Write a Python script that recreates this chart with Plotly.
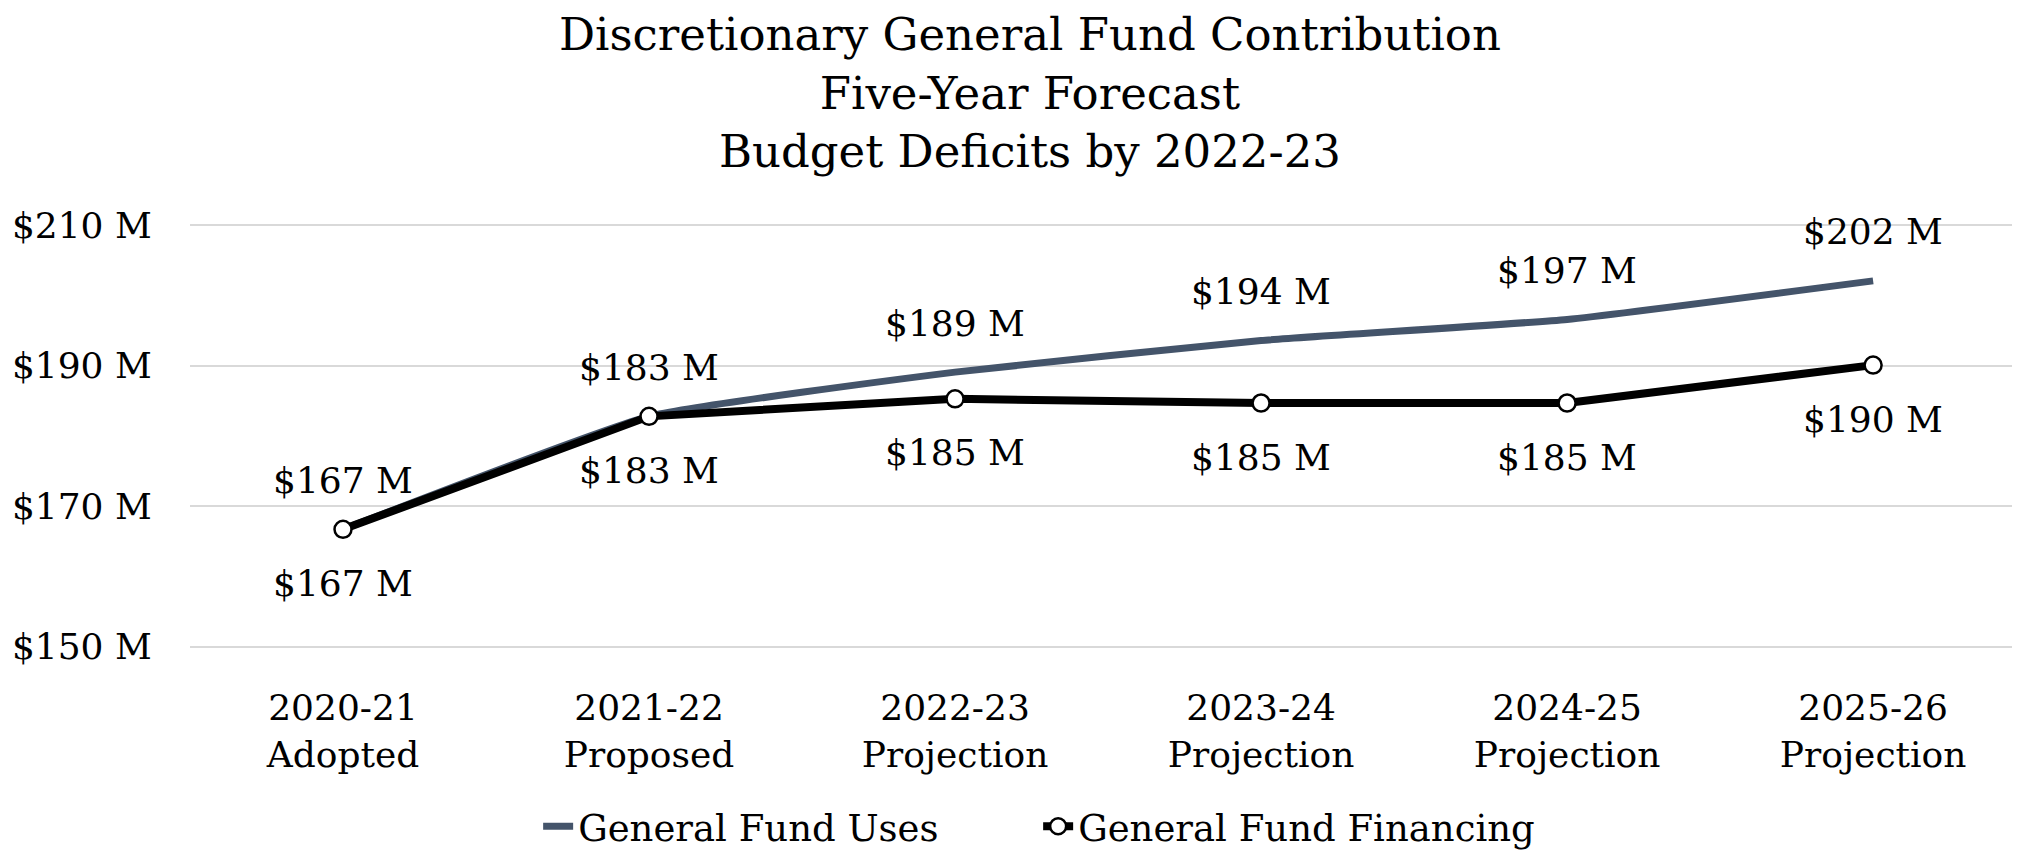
import plotly.graph_objs as go

# chart data
categories = ["2020-21<br>Adopted", "2021-22<br>Proposed", "2022-23<br>Projection",
              "2023-24<br>Projection", "2024-25<br>Projection", "2025-26<br>Projection"]
fund_uses = [166.7, 182.8, 189.1, 193.6, 196.6, 202.1]
fund_financing = [166.7, 182.8, 185.3, 184.7, 184.7, 190.1]
y_ticks = [150, 170, 190, 210]
y_tick_labels = ["$150 M", "$170 M", "$190 M", "$210 M"]
title_text = "Discretionary General Fund Contribution<br>Five-Year Forecast<br>Budget Deficits by 2022-23"

FONT = "DejaVu Serif"
x_idx = list(range(len(categories)))

fig = go.Figure()
fig.add_trace(go.Scatter(x=x_idx, y=fund_uses, name="General Fund Uses",
                         mode="lines", line=dict(color="#44546A", width=7, shape="spline", smoothing=0.4),
                         hoverinfo="skip"))
fig.add_trace(go.Scatter(x=x_idx, y=fund_financing, name="General Fund Financing",
                         mode="lines+markers", line=dict(color="black", width=8),
                         marker=dict(symbol="circle", size=17, color="white",
                                     line=dict(color="black", width=2.5)),
                         hoverinfo="skip"))

annotations = [dict(text=title_text, xref="paper", yref="paper", x=0.459, y=1.31,
                    xanchor="center", yanchor="middle", showarrow=False,
                    font=dict(family=FONT, size=45, color="black"))]
for i, v in enumerate(fund_uses):
    annotations.append(dict(x=i, y=v, text=f"${round(v)} M", showarrow=False,
                            yshift=49, yanchor="middle",
                            font=dict(family=FONT, size=36, color="black")))
for i, v in enumerate(fund_financing):
    annotations.append(dict(x=i, y=v, text=f"${round(v)} M", showarrow=False,
                            yshift=-54, yanchor="middle",
                            font=dict(family=FONT, size=36, color="black")))

fig.update_xaxes(range=[-0.5, 5.48], tickmode="array", tickvals=x_idx, ticktext=categories,
                 showgrid=False, zeroline=False, showline=False,
                 ticks="outside", ticklen=28, tickcolor="rgba(0,0,0,0)",
                 tickfont=dict(family=FONT, size=36, color="black"))
fig.update_yaxes(range=[149.8, 210.2], tickmode="array", tickvals=y_ticks, ticktext=y_tick_labels,
                 showgrid=True, gridcolor="#d9d9d9", gridwidth=2,
                 zeroline=False, showline=False,
                 ticks="outside", ticklen=30, tickcolor="rgba(0,0,0,0)",
                 tickfont=dict(family=FONT, size=36, color="black"))

# page body has an 8px margin, so the figure is a bit smaller than the window
fig.update_layout(
    width=2012,
    height=844,
    margin=dict(l=182, r=0, t=216, b=204),
    plot_bgcolor="white",
    paper_bgcolor="white",
    showlegend=True,
    legend=dict(orientation="h", xref="container", yref="container",
                x=0.512, xanchor="center", y=0.03, yanchor="middle",
                entrywidth=455,
                font=dict(family=FONT, size=37, color="black")),
    annotations=annotations,
)

fig.write_html("out.html")
